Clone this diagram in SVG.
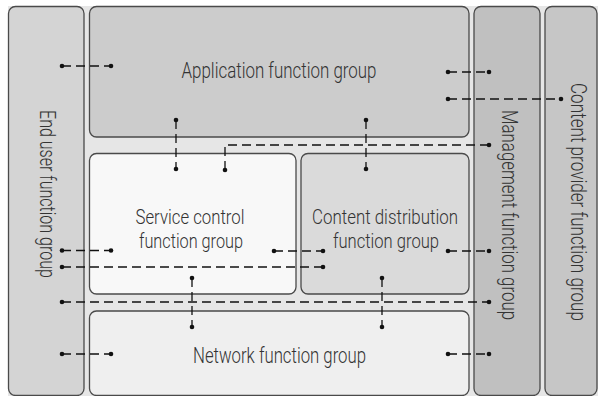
<svg xmlns="http://www.w3.org/2000/svg" width="602" height="396" viewBox="0 0 602 396">
<style>
.box{stroke:#4a4a4a;stroke-width:1.3}
.lbl{font-family:Roboto,"Liberation Sans",sans-serif;font-weight:300;font-size:21.5px;fill:#333333;text-anchor:middle}
.two{font-size:20px}
.con{fill:none;stroke:#111;stroke-width:1.3;stroke-dasharray:9,5;marker-start:url(#dot);marker-end:url(#dot)}
</style>
<defs>
<marker id="dot" viewBox="-3 -3 6 6" markerWidth="6" markerHeight="6" markerUnits="userSpaceOnUse" refX="0" refY="0" orient="auto">
<circle r="2.3" fill="#111"/>
</marker>
</defs>
<rect x="0" y="0" width="602" height="396" fill="#ffffff"/>
<rect x="8" y="6" width="590" height="390" fill="#e6e6e6"/>
<g id="end-user">
<rect class="box" x="8.5" y="6.5" width="75.5" height="389" rx="7" fill="#d4d4d4"/>
<text class="lbl" transform="translate(39.5,194) rotate(90)" textLength="168" lengthAdjust="spacingAndGlyphs">End user function group</text>
</g>
<g id="application">
<rect class="box" x="89.5" y="6.5" width="379.5" height="130.5" rx="7" fill="#cccccc"/>
<text class="lbl" x="279" y="78" textLength="195" lengthAdjust="spacingAndGlyphs">Application function group</text>
</g>
<g id="service-control">
<rect class="box" x="89.5" y="153.5" width="206.5" height="140.5" rx="7" fill="#f8f8f8"/>
<text class="lbl two" x="190" y="224" textLength="109" lengthAdjust="spacingAndGlyphs">Service control</text>
<text class="lbl two" x="191" y="248" textLength="104" lengthAdjust="spacingAndGlyphs">function group</text>
</g>
<g id="content-distribution">
<rect class="box" x="301" y="153.5" width="168" height="140.5" rx="7" fill="#dadada"/>
<text class="lbl two" x="385" y="224" textLength="146" lengthAdjust="spacingAndGlyphs">Content distribution</text>
<text class="lbl two" x="386" y="248" textLength="106" lengthAdjust="spacingAndGlyphs">function group</text>
</g>
<g id="network">
<rect class="box" x="89.5" y="311" width="379.5" height="84.5" rx="7" fill="#efefef"/>
<text class="lbl" x="279.5" y="363" textLength="173" lengthAdjust="spacingAndGlyphs">Network function group</text>
</g>
<g id="management">
<rect class="box" x="474" y="6.5" width="66" height="389" rx="7" fill="#c0c0c0"/>
<text class="lbl" transform="translate(501.5,215) rotate(90)" textLength="210" lengthAdjust="spacingAndGlyphs">Management function group</text>
</g>
<g id="content-provider">
<rect class="box" x="545" y="6.5" width="52" height="389" rx="7" fill="#c6c6c6"/>
<text class="lbl" transform="translate(571,202) rotate(90)" textLength="238" lengthAdjust="spacingAndGlyphs">Content provider function group</text>
</g>
<g id="connectors">
<path class="con" d="M62,66 H111"/>
<path class="con" d="M176,120 V169"/>
<path class="con" d="M366,120 V169"/>
<path class="con" d="M448,72 H489"/>
<path class="con" d="M448,99 H561"/>
<path class="con" d="M225,170 V145 H489"/>
<path class="con" d="M62,250.5 H111"/>
<path class="con" d="M274,251 H323"/>
<path class="con" d="M448,251 H489"/>
<path class="con" d="M62,267 H323"/>
<path class="con" d="M62,302 H489"/>
<path class="con" d="M192,278 V327"/>
<path class="con" d="M382,278 V327"/>
<path class="con" d="M62,354 H111"/>
<path class="con" d="M448,354 H489"/>
</g>
</svg>
